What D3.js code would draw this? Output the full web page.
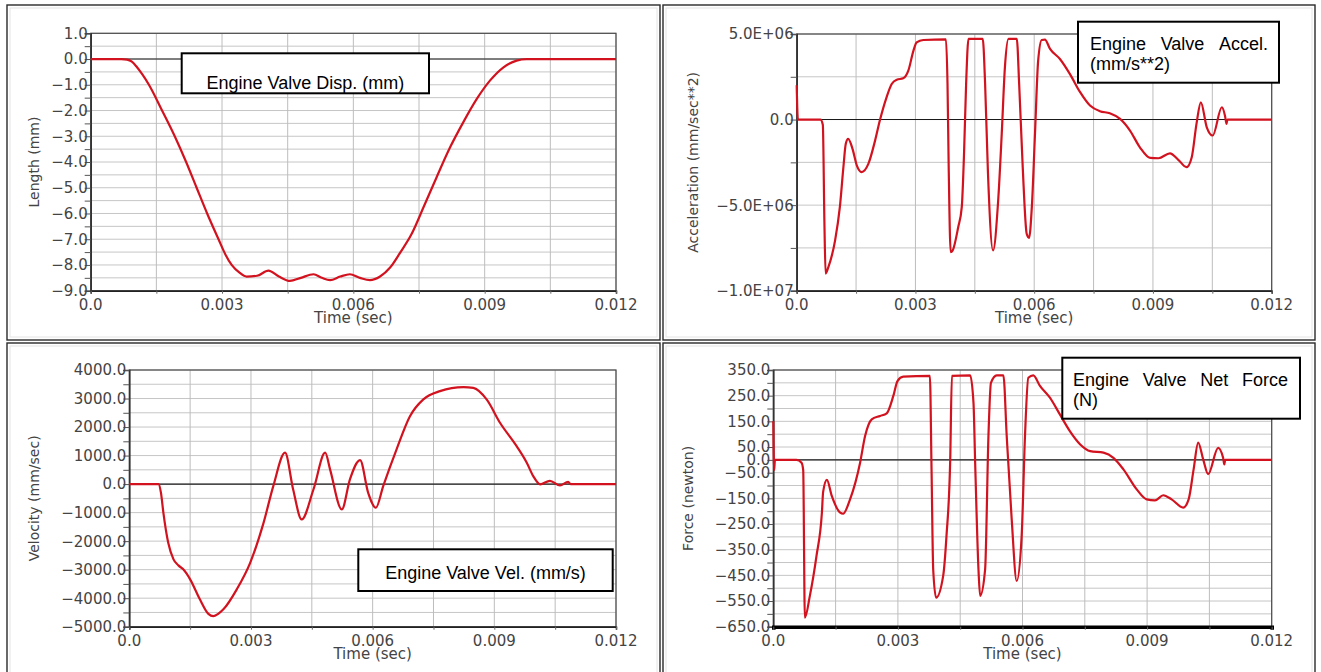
<!DOCTYPE html>
<html><head><meta charset="utf-8">
<script src="https://cdn.jsdelivr.net/npm/d3@7"></script>
<style>body{margin:0;background:#fff} svg{display:block}</style>
</head><body><svg id="c" width="1321" height="672"></svg>
<script>
// ---------------- data ----------------
const timeTicks = [0, 0.003, 0.006, 0.009, 0.012];
const timeTickLabels = ["0.0", "0.003", "0.006", "0.009", "0.012"];
const timeGridStep = 0.0015;

const dispTicks = [1, 0, -1, -2, -3, -4, -5, -6, -7, -8, -9];
const dispTickLabels = ["1.0", "0.0", "\u22121.0", "\u22122.0", "\u22123.0", "\u22124.0", "\u22125.0", "\u22126.0", "\u22127.0", "\u22128.0", "\u22129.0"];
const dispTime = [0, 0.0007, 0.00083, 0.00094, 0.00105, 0.00118, 0.00133, 0.00163, 0.00192, 0.00218, 0.00242, 0.00266, 0.00292, 0.00308, 0.00322, 0.0034, 0.00356, 0.0038, 0.00406, 0.0043, 0.00455, 0.0048, 0.00509, 0.00528, 0.00547, 0.0057, 0.00592, 0.00615, 0.00638, 0.00661, 0.00684, 0.00707, 0.00733, 0.0076, 0.0079, 0.00821, 0.00851, 0.00882, 0.00912, 0.00943, 0.00973, 0.00996, 0.012];
const dispValue = [0, 0, -0.02, -0.1, -0.3, -0.6, -1.0, -2.0, -3.0, -4.0, -5.0, -6.0, -7.0, -7.6, -8.0, -8.3, -8.45, -8.42, -8.22, -8.45, -8.62, -8.5, -8.36, -8.5, -8.59, -8.45, -8.36, -8.5, -8.59, -8.45, -8.1, -7.52, -6.8, -5.77, -4.6, -3.43, -2.46, -1.55, -0.84, -0.32, -0.06, 0, 0];

const accTicks = [5e6, 0, -5e6, -1e7];
const accTickLabels = ["5.0E+06", "0.0", "\u22125.0E+06", "\u22121.0E+07"];
const accTime = [0, 0.00003, 0.0006, 0.00066, 0.0007, 0.00073, 0.0008, 0.00097, 0.00109, 0.00118, 0.00124, 0.0013, 0.00141, 0.00152, 0.00164, 0.00181, 0.00198, 0.0021, 0.00227, 0.0024, 0.00253, 0.00269, 0.00282, 0.00295, 0.00303, 0.0032, 0.00377, 0.00381, 0.00384, 0.00389, 0.00394, 0.00408, 0.00417, 0.00423, 0.00428, 0.00434, 0.0047, 0.00476, 0.00483, 0.00496, 0.00509, 0.00518, 0.00526, 0.00535, 0.00556, 0.00562, 0.00571, 0.00581, 0.00587, 0.00594, 0.00602, 0.0061, 0.00619, 0.00627, 0.0064, 0.00665, 0.0069, 0.00716, 0.00741, 0.00766, 0.00791, 0.00817, 0.00842, 0.00867, 0.00893, 0.00914, 0.00943, 0.00964, 0.00985, 0.00998, 0.0101, 0.01021, 0.01036, 0.01051, 0.01074, 0.01082, 0.01086, 0.01088, 0.012];
const accValue = [2.0e6, 0, 0, -0.3e6, -6.0e6, -9.0e6, -8.62e6, -7.06e6, -5.12e6, -2.78e6, -1.42e6, -1.13e6, -1.71e6, -2.69e6, -3.07e6, -2.59e6, -1.23e6, -0.06e6, 1.3e6, 2.08e6, 2.33e6, 2.41e6, 2.86e6, 4.03e6, 4.51e6, 4.65e6, 4.69e6, 2.08e6, -2.78e6, -7.75e6, -7.65e6, -6.29e6, -5.12e6, -1.81e6, 2.08e6, 4.71e6, 4.71e6, 2.08e6, -3.0e6, -7.65e6, -4.73e6, -0.83e6, 3.05e6, 4.71e6, 4.71e6, 2.08e6, -2.78e6, -6.67e6, -6.91e6, -5.12e6, -0.83e6, 3.44e6, 4.65e6, 4.67e6, 4.13e6, 3.54e6, 2.67e6, 1.6e6, 0.82e6, 0.49e6, 0.37e6, 0.04e6, -0.64e6, -1.62e6, -2.24e6, -2.26e6, -1.97e6, -2.35e6, -2.78e6, -2.2e6, -0.25e6, 1.01e6, -0.45e6, -0.93e6, 0.72e6, 0.23e6, -0.25e6, 0, 0];

const velTicks = [4000, 3000, 2000, 1000, 0, -1000, -2000, -3000, -4000, -5000];
const velTickLabels = ["4000.0", "3000.0", "2000.0", "1000.0", "0.0", "\u22121000.0", "\u22122000.0", "\u22123000.0", "\u22124000.0", "\u22125000.0"];
const velTime = [0, 0.00072, 0.00078, 0.00084, 0.00096, 0.00109, 0.00121, 0.00133, 0.0015, 0.00174, 0.00195, 0.00207, 0.00232, 0.00265, 0.00298, 0.00331, 0.00355, 0.00384, 0.00404, 0.00425, 0.00454, 0.00483, 0.00495, 0.00524, 0.00544, 0.00569, 0.00589, 0.00608, 0.00626, 0.00659, 0.00692, 0.00725, 0.00766, 0.00824, 0.00848, 0.00881, 0.00914, 0.00955, 0.0098, 0.00996, 0.01013, 0.01037, 0.01062, 0.01082, 0.01088, 0.012];
const velValue = [0, 0, -300, -1000, -2060, -2640, -2850, -2990, -3340, -4040, -4550, -4630, -4390, -3690, -2760, -1360, -70, 1100, -190, -1240, -190, 1100, 515, -890, 165, 840, -305, -830, -70, 1220, 2380, 2970, 3260, 3400, 3375, 2970, 2150, 1330, 750, 280, -10, 116, -50, 80, 0, 0];

const forceTicks = [350, 250, 150, 50, 0, -50, -150, -250, -350, -450, -550, -650];
const forceTickLabels = ["350.0", "250.0", "150.0", "50.0", "0.0", "\u221250.0", "\u2212150.0", "\u2212250.0", "\u2212350.0", "\u2212450.0", "\u2212550.0", "\u2212650.0"];
const forceTime = [0, 0.00002, 0.00004, 0.00056, 0.00068, 0.00072, 0.00076, 0.00088, 0.00104, 0.00117, 0.0012, 0.00129, 0.00141, 0.00161, 0.00168, 0.00185, 0.00209, 0.00221, 0.00237, 0.00257, 0.00273, 0.00289, 0.00299, 0.00313, 0.00377, 0.00381, 0.00385, 0.00392, 0.00409, 0.00417, 0.00426, 0.0043, 0.00474, 0.00482, 0.00486, 0.00494, 0.00498, 0.0051, 0.00518, 0.00524, 0.00538, 0.00554, 0.00562, 0.00574, 0.00586, 0.00598, 0.00606, 0.00614, 0.00626, 0.00642, 0.00666, 0.0069, 0.00714, 0.00739, 0.00763, 0.00795, 0.00819, 0.00843, 0.00875, 0.00899, 0.00919, 0.00939, 0.00959, 0.00987, 0.01, 0.01012, 0.01023, 0.01035, 0.01047, 0.01071, 0.01083, 0.01086, 0.01088, 0.012];
const forceValue = [150, -40, 0, 0, -11, -40, -615, -530, -374, -206, -125, -78, -141, -206, -210, -153, -11, 93, 158, 171, 181, 249, 307, 324, 327, -37, -427, -537, -452, -296, 2, 327, 329, 222, -10, -427, -530, -427, 93, 300, 329, 329, 93, -232, -472, -296, 93, 320, 329, 288, 242, 177, 112, 60, 34, 28, 8, -37, -115, -154, -158, -138, -154, -186, -154, -37, 67, 2, -56, 47, 8, -18, 0, 0];

// ---------------- layout ----------------
const svg = d3.select("#c");
const TICK_FONT = "DejaVu Sans";
const BOX_FONT = "'Liberation Sans', Arial, sans-serif";

const cells = [
  {x: 7, y: 5, w: 653, h: 335},
  {x: 663, y: 5, w: 652, h: 335},
  {x: 7, y: 343, w: 653, h: 340},
  {x: 663, y: 343, w: 652, h: 340}
];
cells.forEach(c => {
  svg.append("rect").attr("x", c.x).attr("y", c.y).attr("width", c.w).attr("height", c.h)
    .attr("fill", "#fff").attr("stroke", "#2a2a2a").attr("stroke-width", 1.4);
  svg.append("rect").attr("x", c.x + 3).attr("y", c.y + 3).attr("width", c.w - 6).attr("height", c.h - 6)
    .attr("fill", "none").attr("stroke", "#e4e4e4").attr("stroke-width", 1);
});

const panels = [
  {x0: 90.7, x1: 616, y0: 33.3, y1: 290.7, dom: [-9, 1], ticks: dispTicks, labels: dispTickLabels, gridStep: 0.5,
   t: dispTime, v: dispValue, ytitle: "Length (mm)", ytx: 39, bottomW: 1.6,
   box: {x: 181.7, y: 53.3, w: 247.3, h: 40, lines: [["Engine Valve Disp. (mm)"]], align: "center", base: [88.5], clip: true}},
  {x0: 796.7, x1: 1271.7, y0: 34, y1: 290.7, dom: [-1e7, 5e6], ticks: accTicks, labels: accTickLabels, gridStep: 2.5e6,
   t: accTime, v: accValue, ytitle: "Acceleration (mm/sec**2)", ytx: 698, bottomW: 1.6,
   box: {x: 1078, y: 21.7, w: 201, h: 61, lines: [["Engine", "Valve", "Accel."], ["(mm/s**2)"]], align: "justify", tx0: 1090, tx1: 1268, base: [50, 70]}},
  {x0: 129.3, x1: 616, y0: 370, y1: 626.7, dom: [-5000, 4000], ticks: velTicks, labels: velTickLabels, gridStep: 500,
   t: velTime, v: velValue, ytitle: "Velocity (mm/sec)", ytx: 38.5, bottomW: 1.6,
   box: {x: 358.3, y: 549.3, w: 254.4, h: 41.7, lines: [["Engine Valve Vel. (mm/s)"]], align: "center", base: [578.5]}},
  {x0: 773.3, x1: 1271.7, y0: 370, y1: 626.7, dom: [-650, 350], ticks: forceTicks, labels: forceTickLabels, gridStep: 50,
   t: forceTime, v: forceValue, ytitle: "Force (newton)", ytx: 693, bottomW: 3.6,
   box: {x: 1062.3, y: 357.7, w: 237.7, h: 61, lines: [["Engine", "Valve", "Net", "Force"], ["(N)"]], align: "justify", tx0: 1073, tx1: 1288, base: [386, 406]}}
];

panels.forEach((p, i) => {
  const g = svg.append("g");
  const x = d3.scaleLinear().domain([0, 0.012]).range([p.x0, p.x1]);
  const y = d3.scaleLinear().domain(p.dom).range([p.y1, p.y0]);

  g.append("rect").attr("x", p.x0).attr("y", p.y0).attr("width", p.x1 - p.x0).attr("height", p.y1 - p.y0).attr("fill", "#fff");

  const yGrid = d3.range(p.dom[0], p.dom[1] + p.gridStep / 2, p.gridStep);
  const xGrid = d3.range(0, 0.012 + timeGridStep / 2, timeGridStep);
  g.append("g").selectAll("line").data(yGrid).join("line")
    .attr("x1", p.x0).attr("x2", p.x1).attr("y1", d => y(d)).attr("y2", d => y(d))
    .attr("stroke", "#c6c6c6").attr("stroke-width", 1);
  g.append("g").selectAll("line").data(xGrid).join("line")
    .attr("x1", d => x(d)).attr("x2", d => x(d)).attr("y1", p.y0).attr("y2", p.y1)
    .attr("stroke", "#bdbdbd").attr("stroke-width", 1);

  g.append("line").attr("x1", p.x0).attr("x2", p.x1).attr("y1", y(0)).attr("y2", y(0))
    .attr("stroke", "#1a1a1a").attr("stroke-width", 1.1);

  g.append("rect").attr("x", p.x0).attr("y", p.y0).attr("width", p.x1 - p.x0).attr("height", p.y1 - p.y0)
    .attr("fill", "none").attr("stroke", "#4a4a4a").attr("stroke-width", 1.2);

  const yAxis = d3.axisLeft(y).tickValues(yGrid).tickSize(6).tickFormat("");
  const ya = g.append("g").attr("transform", `translate(${p.x0},0)`).call(yAxis);
  ya.select(".domain").attr("stroke", "#333").attr("stroke-width", 1.6);
  ya.selectAll(".tick line").attr("stroke", "#555");

  g.append("g").selectAll("text").data(p.ticks).join("text")
    .attr("x", p.x0 - 3).attr("y", d => y(d)).attr("dy", "0.36em")
    .attr("text-anchor", "end").attr("font-family", TICK_FONT).attr("font-size", 15)
    .attr("fill", "#444").text((d, k) => p.labels[k]);

  const xAxis = d3.axisBottom(x).tickValues(xGrid).tickSize(3).tickFormat("");
  const xa = g.append("g").attr("transform", `translate(0,${p.y1})`).call(xAxis);
  xa.select(".domain").attr("stroke", i === 3 ? "#000" : "#222").attr("stroke-width", p.bottomW);
  xa.selectAll(".tick line").attr("stroke", "#666");
  g.append("g").selectAll("text").data(timeTicks).join("text")
    .attr("x", d => x(d)).attr("y", p.y1 + 19)
    .attr("text-anchor", "middle").attr("font-family", TICK_FONT).attr("font-size", 15)
    .attr("fill", "#444").text((d, k) => timeTickLabels[k]);

  g.append("text").attr("x", (p.x0 + p.x1) / 2).attr("y", p.y1 + 32)
    .attr("text-anchor", "middle").attr("font-family", TICK_FONT).attr("font-size", 15)
    .attr("fill", "#444").text("Time (sec)");
  g.append("text").attr("transform", `translate(${p.ytx},${(p.y0 + p.y1) / 2}) rotate(-90)`)
    .attr("text-anchor", "middle").attr("font-family", TICK_FONT).attr("font-size", 14)
    .attr("fill", "#444").text(p.ytitle);

  const pts = p.t.map((t, k) => [t, p.v[k]]);
  const line = d3.line().x(d => x(d[0])).y(d => y(d[1])).curve(d3.curveMonotoneX);
  g.append("path").datum(pts).attr("d", line).attr("fill", "none")
    .attr("stroke", "#d2121e").attr("stroke-width", 2.2).attr("stroke-linejoin", "round");

  const b = p.box;
  const bg = svg.append("g");
  if (b.clip) {
    svg.append("clipPath").attr("id", "bc" + i).append("rect")
      .attr("x", b.x).attr("y", b.y).attr("width", b.w).attr("height", b.h);
  }
  bg.append("rect").attr("x", b.x).attr("y", b.y).attr("width", b.w).attr("height", b.h)
    .attr("fill", "#fff").attr("stroke", "#000").attr("stroke-width", 2);
  const tg = bg.append("g");
  if (b.clip) tg.attr("clip-path", `url(#bc${i})`);
  b.lines.forEach((words, li) => {
    if (b.align === "center") {
      tg.append("text").attr("x", b.x + b.w / 2).attr("y", b.base[li]).attr("text-anchor", "middle")
        .attr("font-family", BOX_FONT).attr("font-size", 18).attr("fill", "#000").text(words.join(" "));
    } else {
      const nodes = words.map(w => tg.append("text").attr("y", b.base[li])
        .attr("font-family", BOX_FONT).attr("font-size", 18).attr("fill", "#000").text(w));
      if (words.length === 1) {
        nodes[0].attr("x", b.tx0);
      } else {
        const widths = nodes.map(n => n.node().getComputedTextLength());
        const gap = (b.tx1 - b.tx0 - d3.sum(widths)) / (words.length - 1);
        let cx = b.tx0;
        nodes.forEach((n, k) => { n.attr("x", cx); cx += widths[k] + gap; });
      }
    }
  });
});
</script>
</body></html>
